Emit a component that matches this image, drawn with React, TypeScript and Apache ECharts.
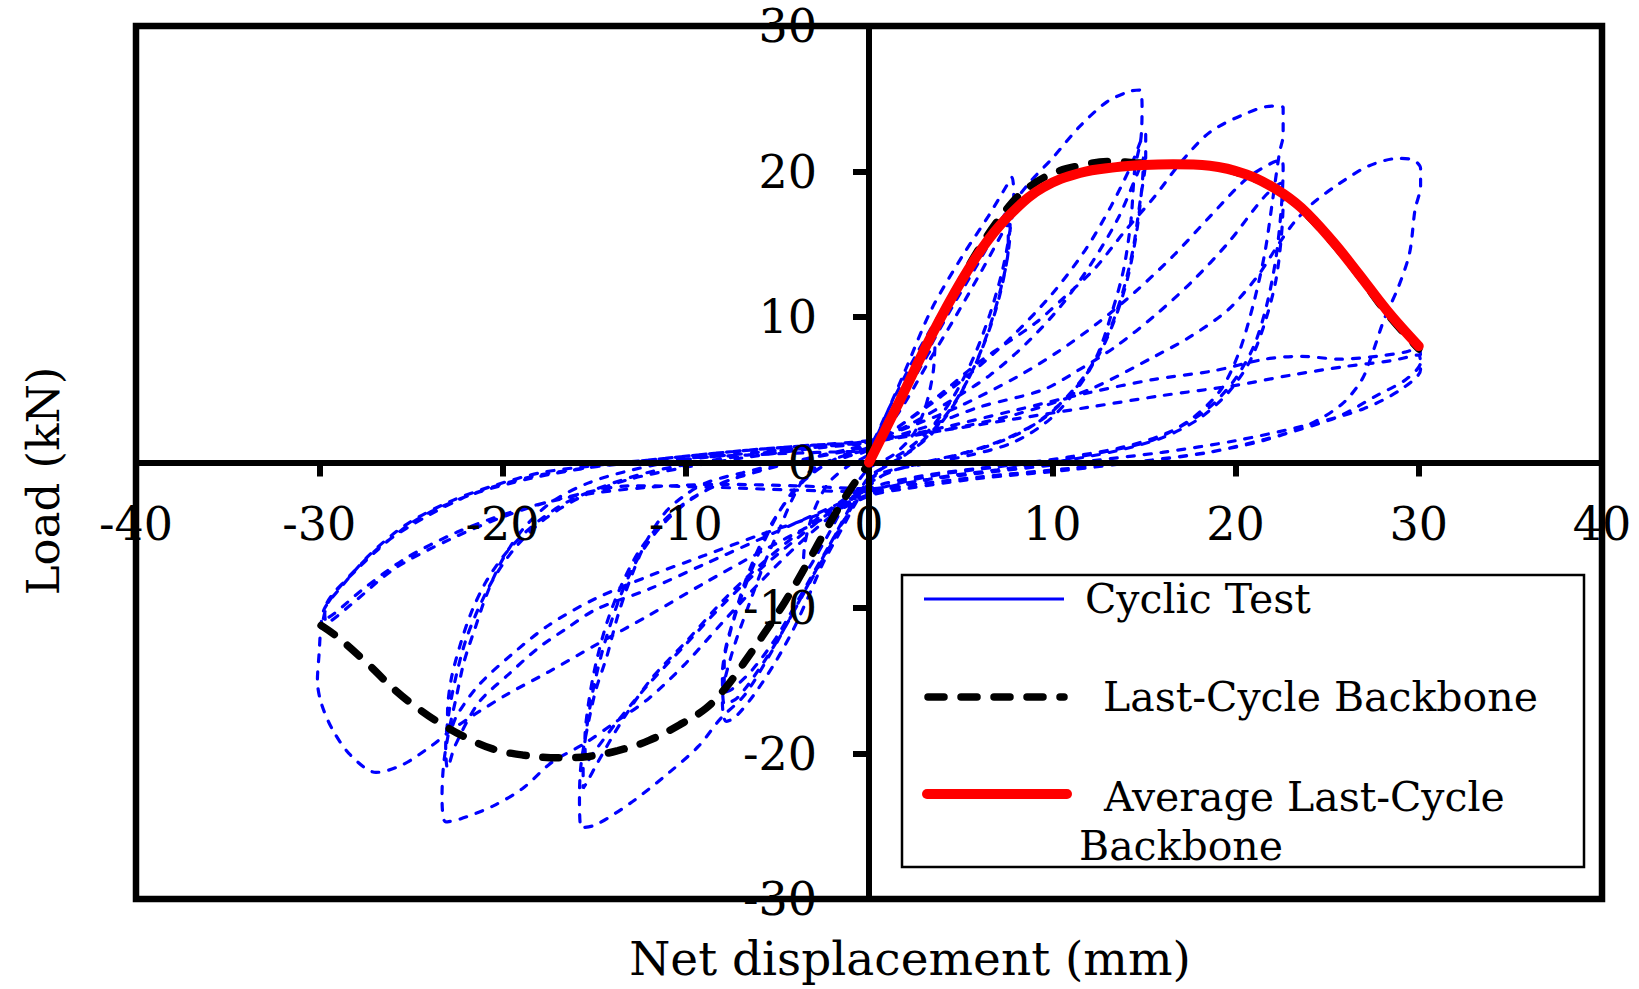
import React, { useEffect, useRef } from "react";
import * as echarts from "echarts";

type Pt = [number, number];

// ---- axis setup (tick labels come from these) ----
const xRange = { min: -40, max: 40, step: 10 };
const yRange = { min: -30, max: 30, step: 10 };

// ---- Cyclic test: hysteresis cycles (mm, kN) ----
const cycleSmall: Pt[] = [[0,0],[1,2.4],[2.2,5.2],[3.3,7.6],[3.6,8.0],[3.5,6.2],[3.1,3.9],[2.4,1.9],[1.3,0.5],[0,-0.4],[-1,-2.1],[-2.2,-4.9],[-3.3,-7.3],[-3.6,-7.7],[-3.5,-5.6],[-3.0,-3.3],[-2.2,-1.4],[-1.1,-0.2],[0,0.6]];

const cycle7a: Pt[] = [[0,0.6],[0.6,2.3],[2.0,6.4],[3.4,10.5],[5.1,14.2],[6.5,16.9],[7.5,19.0],[7.8,19.6],[7.9,18.3],[7.7,16.0],[7.3,13.3],[6.6,10.2],[5.7,7.2],[4.6,4.5],[3.4,2.4],[2.2,1.0],[1.0,0.0],[0.3,-0.9],[-0.5,-2.3],[-1.5,-4.6],[-2.5,-6.9],[-3.3,-9.2],[-4.1,-11.4],[-5.1,-13.7],[-6.3,-16.0],[-7.3,-17.5],[-7.8,-17.8],[-8.0,-16.5],[-7.9,-15.1],[-7.3,-12.4],[-6.5,-9.6],[-5.7,-6.9],[-4.9,-4.6],[-4.1,-2.3],[-3.3,-0.7],[-2.2,0.1],[-1.0,0.6],[0,1.0]];
const cycle7b: Pt[] = [[0,1.0],[1.5,3.8],[3.0,7.2],[4.5,10.6],[6.0,13.8],[7.1,16.3],[7.6,17.4],[7.7,16.0],[7.4,13.0],[6.8,10.0],[5.9,7.0],[4.8,4.3],[3.6,2.2],[2.3,0.8],[1.0,-0.2],[0,-1.0],[-1.0,-3.0],[-2.2,-5.8],[-3.5,-8.8],[-4.8,-11.8],[-6.0,-14.2],[-7.2,-16.2],[-7.9,-16.6],[-8.0,-14.5],[-7.6,-11.8],[-6.9,-9.0],[-6.0,-6.2],[-5.0,-3.6],[-3.9,-1.6],[-2.6,-0.3],[-1.2,0.4],[0,0.9]];
const cycle7c: Pt[] = [[0,0.9],[1.6,3.4],[3.2,6.8],[4.8,10.2],[6.2,13.3],[7.2,15.6],[7.6,16.5],[7.6,14.8],[7.2,12.0],[6.5,9.0],[5.6,6.2],[4.4,3.6],[3.1,1.7],[1.8,0.4],[0.5,-0.6],[0,-1.2],[-1.1,-3.4],[-2.4,-6.2],[-3.8,-9.3],[-5.1,-12.1],[-6.4,-14.3],[-7.5,-15.6],[-7.9,-15.8],[-7.9,-13.6],[-7.4,-10.8],[-6.7,-8.0],[-5.8,-5.3],[-4.7,-3.0],[-3.5,-1.2],[-2.2,0.0],[-1.0,0.7],[0,1.1]];

const cycle15a: Pt[] = [[0,1.1],[1.0,3.5],[2.4,7.0],[4.0,10.5],[5.8,14.0],[7.5,17.2],[8.8,19.3],[10.0,20.9],[11.5,23.1],[13.0,24.8],[14.2,25.5],[14.75,25.6],[14.9,24.6],[14.85,22.4],[14.5,20.1],[14.3,16.7],[13.9,13.3],[13.3,10.5],[12.5,7.5],[11.5,5.3],[9.9,3.0],[7.9,1.4],[5.5,0.5],[3.0,-0.1],[1.0,-0.6],[0,-1.2],[-1.0,-3.2],[-2.5,-6.6],[-4.0,-10.0],[-5.5,-13.4],[-6.8,-16.0],[-8.1,-17.6],[-9.3,-19.5],[-10.9,-21.3],[-12.9,-23.3],[-14.9,-24.9],[-15.7,-25.1],[-15.8,-22.9],[-15.7,-20.6],[-15.3,-17.8],[-14.9,-15.6],[-14.3,-13.3],[-13.7,-10.5],[-12.9,-7.6],[-12.1,-5.3],[-11.1,-3.4],[-10.1,-2.3],[-8.9,-1.4],[-6.9,-0.7],[-4.5,0.0],[-2.0,0.6],[0,1.2]];
const cycle15b: Pt[] = [[0,1.2],[2.0,2.8],[4.0,4.6],[6.0,6.6],[8.0,8.9],[10.0,11.6],[11.8,14.6],[13.2,17.6],[14.3,20.4],[14.9,22.3],[15.1,22.6],[15.1,21.0],[14.8,18.0],[14.4,14.6],[13.8,11.5],[13.0,8.7],[11.9,6.2],[10.4,4.0],[8.5,2.2],[6.2,1.0],[3.8,0.2],[1.5,-0.5],[0,-1.4],[-1.9,-3.0],[-3.9,-4.9],[-5.9,-7.0],[-7.9,-9.4],[-9.9,-12.2],[-11.9,-14.9],[-13.5,-17.8],[-14.8,-20.6],[-15.4,-22.0],[-15.6,-22.4],[-15.6,-20.8],[-15.4,-18.2],[-15.0,-15.3],[-14.4,-12.3],[-13.6,-9.3],[-12.7,-6.8],[-11.5,-4.6],[-10.0,-2.8],[-8.2,-1.5],[-6.0,-0.6],[-3.5,0.2],[-1.2,0.9],[0,1.3]];
const cycle15c: Pt[] = [[0,1.3],[2.2,2.6],[4.4,4.2],[6.6,6.0],[8.6,8.2],[10.5,10.8],[12.2,13.8],[13.6,16.8],[14.5,19.4],[15.0,21.0],[14.9,19.0],[14.6,15.8],[14.1,12.6],[13.4,9.8],[12.5,7.3],[11.2,5.0],[9.6,3.1],[7.6,1.7],[5.3,0.7],[3.0,0.0],[1.0,-0.7],[0,-1.6],[-2.0,-3.3],[-4.0,-5.3],[-6.0,-7.4],[-8.0,-9.8],[-10.0,-12.5],[-12.0,-15.2],[-13.8,-17.9],[-15.0,-19.9],[-15.4,-20.6],[-15.5,-19.0],[-15.3,-16.5],[-14.9,-13.8],[-14.3,-11.0],[-13.5,-8.4],[-12.5,-6.0],[-11.2,-4.0],[-9.6,-2.4],[-7.6,-1.2],[-5.2,-0.3],[-2.6,0.5],[0,1.2]];

const cycle22a: Pt[] = [[0,1.2],[2.0,2.8],[4.0,4.8],[6.0,6.9],[7.5,8.2],[9.1,9.6],[10.7,11.4],[12.3,13.3],[13.9,15.8],[15.6,18.3],[17.0,20.6],[18.6,22.7],[20.6,24.0],[22.0,24.5],[22.6,24.4],[22.6,22.5],[22.4,21.3],[22.0,17.8],[21.6,14.4],[21.0,11.0],[20.2,7.6],[19.2,5.0],[17.6,3.0],[15.6,1.6],[13.5,0.9],[10.0,0.1],[6.0,-0.4],[3.0,-0.9],[0,-1.8],[-2.0,-3.6],[-4.0,-5.8],[-6.0,-8.3],[-8.0,-11.0],[-10.0,-13.8],[-12.0,-16.2],[-13.9,-17.9],[-15.5,-19.3],[-17.3,-20.6],[-18.9,-22.4],[-20.5,-23.6],[-22.3,-24.5],[-23.1,-24.7],[-23.3,-22.9],[-23.2,-20.6],[-22.9,-18.3],[-22.5,-16.0],[-22.1,-13.7],[-21.5,-11.4],[-20.9,-9.2],[-20.1,-6.9],[-18.9,-4.6],[-17.3,-2.7],[-15.3,-1.4],[-12.9,-0.5],[-10.0,0.2],[-6.0,0.7],[-3.0,1.1],[0,1.5]];
const cycle22b: Pt[] = [[0,1.5],[2.5,2.6],[5.0,3.9],[8.1,5.9],[10.3,7.6],[12.5,9.6],[14.5,11.7],[16.6,14.2],[18.6,16.9],[20.6,19.5],[22.0,20.6],[22.5,20.8],[22.6,20.3],[22.5,17.5],[22.2,14.0],[21.7,10.8],[21.0,8.0],[19.9,5.6],[18.4,3.6],[16.4,2.1],[14.0,1.1],[11.0,0.4],[7.0,-0.3],[3.5,-0.9],[0,-2.0],[-3.0,-3.6],[-6.0,-5.3],[-9.0,-7.0],[-12.0,-8.7],[-14.9,-10.1],[-16.5,-11.4],[-18.1,-12.8],[-19.7,-14.6],[-21.3,-16.5],[-22.6,-19.5],[-23.0,-21.0],[-23.1,-19.5],[-22.9,-17.0],[-22.5,-14.5],[-22.0,-12.2],[-21.3,-10.0],[-20.4,-7.8],[-19.2,-5.7],[-17.6,-3.8],[-15.6,-2.3],[-13.2,-1.2],[-10.3,-0.4],[-7.0,0.3],[-3.5,0.9],[0,1.4]];
const cycle22c: Pt[] = [[0,1.4],[3.0,2.4],[6.0,3.8],[9.5,5.0],[11.5,6.4],[13.5,8.0],[15.6,10.1],[17.6,12.4],[19.6,15.1],[21.6,18.3],[22.5,19.2],[22.6,18.0],[22.5,15.5],[22.2,12.5],[21.6,9.6],[20.8,7.0],[19.6,4.8],[18.0,3.0],[16.0,1.7],[13.5,0.8],[10.5,0.1],[7.0,-0.5],[3.5,-1.1],[0,-2.2],[-3.0,-3.7],[-6.0,-5.0],[-9.0,-6.4],[-12.0,-7.8],[-15.0,-9.4],[-17.5,-11.2],[-19.5,-13.2],[-21.3,-15.3],[-22.5,-17.4],[-22.9,-18.6],[-23.0,-17.2],[-22.8,-14.9],[-22.3,-12.5],[-21.7,-10.3],[-20.9,-8.2],[-19.8,-6.2],[-18.4,-4.4],[-16.6,-2.8],[-14.4,-1.6],[-11.8,-0.6],[-8.8,0.1],[-5.5,0.7],[-2.5,1.1],[0,1.4]];

const cycle30a: Pt[] = [[0,1.4],[4.0,2.2],[8.0,3.3],[12.0,5.0],[15.6,7.3],[17.6,8.7],[19.6,10.5],[21.2,12.8],[22.4,15.1],[23.2,16.5],[24.2,17.8],[25.7,19.2],[27.3,20.4],[28.9,20.9],[29.7,20.8],[30.1,20.2],[30.1,19.0],[29.8,17.4],[29.5,14.4],[28.9,12.1],[28.1,9.8],[27.5,7.6],[26.9,5.7],[25.8,4.0],[24.0,2.6],[21.5,1.5],[18.5,0.7],[15.0,0.1],[11.0,-0.5],[6.0,-1.1],[2.0,-1.8],[0,-2.3],[-3.0,-4.2],[-6.0,-6.2],[-9.0,-8.3],[-12.0,-10.5],[-15.0,-12.6],[-17.5,-14.4],[-19.7,-15.9],[-21.5,-17.3],[-22.9,-18.5],[-23.9,-19.5],[-25.5,-20.8],[-26.9,-21.3],[-28.3,-20.1],[-29.3,-18.3],[-29.9,-16.5],[-30.1,-15.0],[-30.0,-13.0],[-29.9,-11.1],[-29.7,-10.0],[-28.9,-8.7],[-27.3,-6.4],[-25.3,-4.3],[-22.9,-2.7],[-20.5,-1.6],[-17.9,-0.7],[-14.9,-0.2],[-11.0,0.3],[-7.0,0.8],[-3.0,1.2],[0,1.4]];
const cycle30b: Pt[] = [[0,1.4],[4.0,2.4],[8.0,3.6],[12.0,4.8],[15.5,5.7],[18.8,6.3],[21.6,7.1],[23.6,7.3],[25.7,7.1],[27.7,7.3],[29.3,7.6],[30.0,7.9],[30.1,6.9],[29.3,5.7],[27.7,4.6],[25.7,3.2],[23.6,2.3],[21.6,1.6],[18.6,0.7],[15.0,0.1],[11.0,-0.4],[6.0,-1.0],[2.0,-1.6],[0,-2.0],[-4.0,-1.9],[-8.5,-1.7],[-12.9,-1.6],[-16.9,-2.5],[-19.9,-3.7],[-22.9,-5.3],[-25.9,-7.3],[-28.3,-9.8],[-29.6,-11.0],[-29.7,-10.2],[-27.9,-7.3],[-24.9,-4.1],[-21.9,-2.3],[-18.5,-1.1],[-15.0,-0.3],[-11.0,0.3],[-7.0,0.8],[-3.0,1.2],[0,1.5]];
const cycle30c: Pt[] = [[0,1.5],[4.0,2.2],[8.0,3.0],[12.0,3.8],[16.0,4.6],[20.0,5.3],[23.0,6.0],[26.0,6.6],[28.5,7.0],[30.0,7.4],[30.1,6.4],[29.0,5.0],[27.0,3.7],[24.0,2.6],[20.0,1.5],[16.0,0.7],[12.0,0.1],[7.0,-0.6],[3.0,-1.2],[0,-1.8],[-4.0,-1.6],[-8.0,-1.5],[-12.0,-1.7],[-16.0,-2.3],[-19.5,-3.4],[-22.5,-4.8],[-25.3,-6.6],[-27.6,-8.7],[-29.2,-10.4],[-29.8,-10.9],[-29.5,-9.6],[-28.2,-7.6],[-26.5,-5.6],[-24.0,-3.6],[-21.5,-2.1],[-18.5,-1.0],[-15.0,-0.3],[-10.0,0.3],[-5.0,0.6],[0,0.8]];

const cyclicTest: Pt[] = [
  ...cycleSmall, ...cycle7a, ...cycle7b, ...cycle7c,
  ...cycle15a, ...cycle15b, ...cycle15c,
  ...cycle22a, ...cycle22b, ...cycle22c,
  ...cycle30a, ...cycle30b, ...cycle30c,
];

// ---- Last-cycle backbone (black dashed) ----
const lastCycleBackbone: Pt[] = [[-29.9,-11.2],[-28.9,-12.1],[-27.3,-13.9],[-25.9,-15.6],[-24.5,-17.0],[-23.3,-18.0],[-22.0,-18.9],[-20.5,-19.7],[-18.9,-20.1],[-16.9,-20.3],[-15.3,-20.2],[-13.7,-19.8],[-12.0,-19.1],[-10.3,-18.0],[-8.9,-16.9],[-7.9,-15.6],[-6.9,-13.9],[-5.8,-11.9],[-4.6,-9.6],[-3.4,-7.0],[-2.2,-4.3],[-1.0,-1.8],[0,0],[1.6,4.0],[3.2,8.2],[4.8,12.0],[6.1,14.9],[7.5,17.4],[8.5,18.7],[9.9,19.8],[11.5,20.4],[13.3,20.7],[14.5,20.6],[16.6,20.5],[18.6,20.4],[20.6,19.7],[22.2,18.8],[23.6,17.4],[25.3,15.1],[26.7,12.9],[28.3,10.2],[30.0,7.8]];

// ---- Average last-cycle backbone (red) ----
const averageBackbone: Pt[] = [[0,0],[1.7,4.3],[3.4,8.7],[5.1,12.6],[6.5,15.3],[7.9,17.3],[9.5,18.9],[11.5,19.9],[13.5,20.3],[15.0,20.45],[16.6,20.5],[18.6,20.4],[20.6,19.8],[22.2,18.8],[23.6,17.5],[25.3,15.2],[26.7,13.0],[28.3,10.4],[30.0,8.0]];

const seriesNames = ["Cyclic Test", "Last-Cycle Backbone", "Average Last-Cycle Backbone"];
const xTitle = "Net displacement (mm)";
const yTitle = "Load (kN)";

const FONT = "'DejaVu Serif', 'Liberation Serif', serif";

// plot box in pixels
const GRID = { left: 136, top: 26, width: 1466, height: 873 };

export default function App() {
  const ref = useRef<HTMLDivElement>(null);

  useEffect(() => {
    if (!ref.current) return;
    const chart = echarts.init(ref.current, undefined, { renderer: "svg" });

    const legendX0 = 924;
    const legendX1 = 1064;
    const legendFont = 41;

    chart.setOption({
      animation: false,
      backgroundColor: "#ffffff",
      grid: {
        ...GRID,
        show: true,
        borderColor: "#000",
        borderWidth: 6.5,
        backgroundColor: "transparent",
        containLabel: false,
        outerBoundsMode: "none",
      },
      xAxis: {
        type: "value",
        position: "bottom",
        min: xRange.min,
        max: xRange.max,
        interval: xRange.step,
        offset: -GRID.height / 2,
        z: 5,
        splitLine: { show: false },
        axisLine: { show: true, onZero: false, lineStyle: { color: "#000", width: 6 } },
        axisTick: { show: true, length: 14, lineStyle: { color: "#000", width: 6 } },
        axisLabel: {
          show: true,
          color: "#000",
          fontFamily: FONT,
          fontSize: 46,
          margin: 38,
          showMinLabel: true,
          showMaxLabel: true,
        },
      },
      yAxis: {
        type: "value",
        position: "left",
        min: yRange.min,
        max: yRange.max,
        interval: yRange.step,
        offset: -GRID.width / 2,
        z: 5,
        splitLine: { show: false },
        axisLine: { show: true, onZero: false, lineStyle: { color: "#000", width: 6 } },
        axisTick: { show: true, length: 16, lineStyle: { color: "#000", width: 6 } },
        axisLabel: {
          show: true,
          color: "#000",
          fontFamily: FONT,
          fontSize: 46,
          margin: 52,
          showMinLabel: true,
          showMaxLabel: true,
        },
      },
      series: [
        {
          name: seriesNames[0],
          type: "line",
          data: cyclicTest,
          showSymbol: false,
          symbol: "none",
          smooth: 0.3,
          z: 2,
          lineStyle: { color: "#0000ff", width: 3.2, type: [7, 10], cap: "round" },
        },
        {
          name: seriesNames[1],
          type: "line",
          data: lastCycleBackbone,
          showSymbol: false,
          symbol: "none",
          smooth: 0.4,
          z: 6,
          lineStyle: { color: "#000", width: 7.5, type: [16, 17], cap: "round" },
        },
        {
          name: seriesNames[2],
          type: "line",
          data: averageBackbone,
          showSymbol: false,
          symbol: "none",
          smooth: 0.4,
          z: 7,
          lineStyle: { color: "#ff0000", width: 10, cap: "round" },
        },
      ],
      graphic: [
        {
          type: "text",
          x: 910,
          y: 958,
          style: { text: xTitle, fill: "#000", fontFamily: FONT, fontSize: 47, align: "center", verticalAlign: "middle" },
        },
        {
          type: "text",
          x: 43,
          y: 481,
          rotation: Math.PI / 2,
          style: { text: yTitle, fill: "#000", fontFamily: FONT, fontSize: 45, align: "center", verticalAlign: "middle" },
        },
        {
          type: "group",
          z: 100,
          children: [
            {
              type: "rect",
              shape: { x: 902, y: 575, width: 682, height: 292 },
              style: { fill: "#fff", stroke: "#000", lineWidth: 2.5 },
            },
            {
              type: "line",
              shape: { x1: legendX0, y1: 599, x2: legendX1, y2: 599 },
              style: { stroke: "#0000ff", lineWidth: 3 },
            },
            {
              type: "text",
              x: 1085,
              y: 599,
              style: { text: seriesNames[0], fill: "#000", fontFamily: FONT, fontSize: legendFont, align: "left", verticalAlign: "middle" },
            },
            {
              type: "line",
              shape: { x1: legendX0 + 4, y1: 697, x2: legendX1, y2: 697 },
              style: { stroke: "#000", lineWidth: 7.5, lineDash: [16, 17], lineCap: "round" },
            },
            {
              type: "text",
              x: 1103,
              y: 697,
              style: { text: "Last-Cycle Backbone", fill: "#000", fontFamily: FONT, fontSize: legendFont, align: "left", verticalAlign: "middle" },
            },
            {
              type: "line",
              shape: { x1: legendX0 + 3, y1: 794, x2: legendX1 + 3, y2: 794 },
              style: { stroke: "#ff0000", lineWidth: 10, lineCap: "round" },
            },
            {
              type: "text",
              x: 1104,
              y: 797,
              style: { text: "Average Last-Cycle", fill: "#000", fontFamily: FONT, fontSize: legendFont, align: "left", verticalAlign: "middle" },
            },
            {
              type: "text",
              x: 1079,
              y: 846,
              style: { text: "Backbone", fill: "#000", fontFamily: FONT, fontSize: legendFont, align: "left", verticalAlign: "middle" },
            },
          ],
        },
      ],
    });

    return () => chart.dispose();
  }, []);

  return (
    <div
      ref={ref}
      style={{ position: "fixed", left: 0, top: 0, width: 1639, height: 989, background: "#fff" }}
    />
  );
}
